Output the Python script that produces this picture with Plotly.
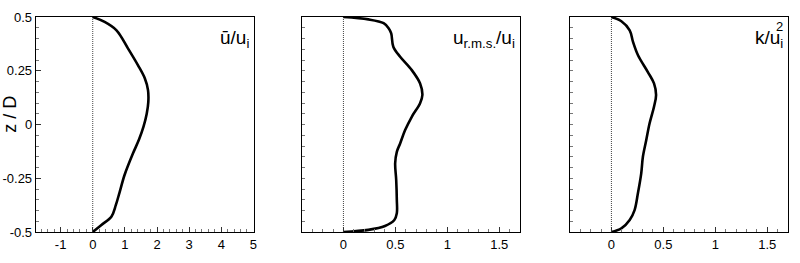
import plotly.graph_objects as go

# ---- data ----
z_mean = [0.5, 0.477, 0.438, 0.353, 0.275, 0.215, 0.160, 0.105, 0.050, -0.010, -0.070, -0.135, -0.235, -0.313, -0.374, -0.429, -0.467, -0.5]
u_mean = [0.0, 0.37, 0.74, 1.10, 1.41, 1.62, 1.72, 1.73, 1.68, 1.58, 1.44, 1.25, 0.99, 0.84, 0.72, 0.58, 0.27, 0.0]

z_rms = [0.5, 0.489, 0.471, 0.448, 0.424, 0.362, 0.315, 0.253, 0.191, 0.137, 0.099, 0.036, -0.026, -0.088, -0.127, -0.180, -0.258, -0.351, -0.413, -0.444, -0.472, -0.490, -0.5]
u_rms = [0.0, 0.24, 0.387, 0.435, 0.46, 0.48, 0.546, 0.658, 0.738, 0.76, 0.738, 0.658, 0.594, 0.546, 0.514, 0.498, 0.508, 0.514, 0.514, 0.49, 0.40, 0.24, 0.0]

z_k = [0.5, 0.480, 0.438, 0.384, 0.322, 0.244, 0.191, 0.137, 0.083, 0.005, -0.073, -0.150, -0.227, -0.320, -0.398, -0.444, -0.483, -0.5]
k_val = [0.0, 0.096, 0.176, 0.208, 0.256, 0.351, 0.41, 0.43, 0.41, 0.367, 0.335, 0.303, 0.287, 0.255, 0.223, 0.176, 0.096, 0.0]

zero_x = [0, 0]
zero_z = [-0.5, 0.5]

x_ranges = [[-1.77, 5.02], [-0.4, 1.7], [-0.4, 1.7]]
x_minor = [0.2, 0.1, 0.1]
x_ticktext = [["-1", "0", "1", "2", "3", "4", "5"], ["0", "0.5", "1", "1.5"], ["0", "0.5", "1", "1.5"]]
x_tickvals = [[-1, 0, 1, 2, 3, 4, 5], [0, 0.5, 1, 1.5], [0, 0.5, 1, 1.5]]
y_tickvals = [-0.5, -0.25, 0, 0.25, 0.5]
y_ticktext = ["-0.5", "-0.25", "0", "0.25", "0.5"]

domains = [[36 / 800, 255 / 800], [303 / 800, 522 / 800], [572 / 800, 791 / 800]]

FONT = "Liberation Sans, Arial, Helvetica, sans-serif"

fig = go.Figure()
series = [(u_mean, z_mean), (u_rms, z_rms), (k_val, z_k)]
for i, (xv, zv) in enumerate(series):
    ax = "" if i == 0 else str(i + 1)
    fig.add_trace(go.Scatter(x=zero_x, y=zero_z, mode="lines",
                             line=dict(color="#444", width=1, dash="1px,1px"),
                             xaxis="x" + ax, yaxis="y" + ax, showlegend=False, hoverinfo="skip"))
    fig.add_trace(go.Scatter(x=xv, y=zv, mode="lines",
                             line=dict(color="black", width=2.6, shape="spline", smoothing=1.0),
                             xaxis="x" + ax, yaxis="y" + ax, showlegend=False))

layout = dict(width=800, height=263, margin=dict(l=0, r=0, t=17, b=31),
              paper_bgcolor="white", plot_bgcolor="white",
              font=dict(family=FONT, size=13, color="black"))
for i in range(3):
    ax = "" if i == 0 else str(i + 1)
    layout["xaxis" + ax] = dict(domain=domains[i], range=x_ranges[i], anchor="y" + ax,
                                tickvals=x_tickvals[i], ticktext=x_ticktext[i],
                                ticks="inside", ticklen=5, tickwidth=1, tickcolor="#333",
                                minor=dict(dtick=x_minor[i], tick0=0, ticks="inside", ticklen=3,
                                           tickwidth=1, tickcolor="#777", showgrid=False),
                                showline=True, linecolor="black", linewidth=1.3, mirror=True,
                                showgrid=False, zeroline=False, fixedrange=True,
                                tickfont=dict(size=13))
    layout["yaxis" + ax] = dict(domain=[0, 1], range=[-0.5, 0.5], anchor="x" + ax,
                                tickvals=y_tickvals, ticktext=y_ticktext if i == 0 else [""] * 5,
                                showticklabels=(i == 0),
                                ticks="inside", ticklen=5, tickwidth=1, tickcolor="#333",
                                minor=dict(dtick=0.05, tick0=0, ticks="inside", ticklen=3,
                                           tickwidth=1, tickcolor="#777", showgrid=False),
                                showline=True, linecolor="black", linewidth=1.3, mirror=True,
                                showgrid=False, zeroline=False, fixedrange=True,
                                tickfont=dict(size=13))
fig.update_layout(**layout)

ann = []
ann.append(dict(text="z / D", textangle=-90, xref="paper", yref="paper", x=10 / 800, y=0.55,
                showarrow=False, font=dict(size=18, family=FONT), xanchor="center", yanchor="middle"))
ann.append(dict(text="ū/u<sub>i</sub>", xref="x domain", yref="y domain", x=0.985, y=0.9,
                showarrow=False, font=dict(size=19, family=FONT), xanchor="right", yanchor="middle"))
ann.append(dict(text="u<sub>r.m.s.</sub>/u<sub>i</sub>", xref="x2 domain", yref="y2 domain", x=0.985, y=0.9,
                showarrow=False, font=dict(size=19, family=FONT), xanchor="right", yanchor="middle"))
ann.append(dict(text="k/u<sub>i</sub>", xref="x3 domain", yref="y3 domain", x=0.985, y=0.9,
                showarrow=False, font=dict(size=19, family=FONT), xanchor="right", yanchor="middle"))
ann.append(dict(text="2", xref="x3 domain", yref="y3 domain", x=0.985, y=0.955,
                showarrow=False, font=dict(size=13, family=FONT), xanchor="right", yanchor="middle"))
fig.update_layout(annotations=ann)

fig.write_html("out.html")
